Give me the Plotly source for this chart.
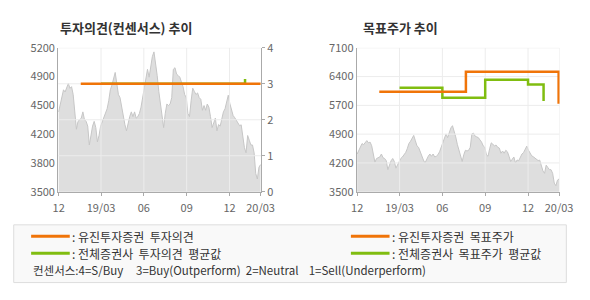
import plotly.graph_objects as go
import pandas as pd

# ---------------- data ----------------
price_start = "2018-12-04"
price_end = "2020-02-06"
price = [4443, 4536, 4648, 4704, 4678, 4741, 4779, 4722, 4741, 4648,
         4425, 4238, 4331, 4350, 4369, 4443, 4350, 4331, 4275, 4052,
         4164, 4275, 4331, 4257, 4089, 4164, 4275, 4331, 4369, 4425,
         4480, 4574, 4704, 4760, 4835, 4909, 4779, 4648, 4611, 4499,
         4369, 4294, 4220, 4313, 4387, 4443, 4387, 4443, 4369, 4387,
         4425, 4499, 4611, 4760, 4872, 4946, 4853, 4984, 5096, 5152,
         5021, 4872, 4685, 4536, 4350, 4257, 4425, 4536, 4518, 4536,
         4611, 4946, 4965, 4890, 4872, 4853, 4797, 4741, 4648, 4611,
         4425, 4387, 4574, 4723, 4685, 4648, 4667, 4611, 4592, 4462,
         4518, 4462, 4536, 4499, 4387, 4257, 4313, 4369, 4220, 4294,
         4275, 4369, 4443, 4480, 4555, 4640, 4540, 4480, 4400, 4375,
         4340, 4320, 4280, 4290, 4150, 4020, 3960, 4164, 4108, 4052,
         4052, 3959, 3716, 3650, 3790, 3820]

# opinion (consensus) lines, right axis 0-4
own_op_dates = ["2019-01-20", "2020-02-06"]
own_op_vals = [3, 3]
avg_op_dates = ["2019-03-04", "2020-01-04"]
avg_op_vals = [3, 3.13]

# target price lines
own_tp_dates = ["2019-01-20", "2019-07-23", "2020-02-05"]
own_tp_vals = [6000, 6500, 5700]
avg_tp_dates = ["2019-03-04", "2019-06-03", "2019-09-02", "2019-12-02", "2020-01-04"]
avg_tp_vals = [6100, 5850, 6300, 6180, 5770]

x_tick_dates = ["2018-12-04", "2019-03-04", "2019-06-03", "2019-09-02", "2019-12-02", "2020-02-06"]
x_tick_text = ["12", "19/03", "06", "09", "12", "20/03"]

left_tick_vals = [3500, 3840, 4180, 4520, 4860, 5200]
left_tick_text = ["3500", "3800", "4200", "4500", "4900", "5200"]
op_tick_vals = [0, 1, 2, 3, 4]
tp_tick_vals = [3500, 4220, 4940, 5660, 6380, 7100]
tp_tick_text = ["3500", "4200", "4900", "5700", "6400", "7100"]

x_range = ["2018-12-03", "2020-02-07"]

# ---------------- styling ----------------
W, H = 590, 300
ORANGE = "#f07408"
GREEN = "#80bd10"
FILL = "#dedede"
PLINE = "#c6c6c6"
GRID = "#ececec"
AXIS = "#aaaaaa"
TXT = "#333333"
TICK = "#666666"
FONT = "Noto Sans CJK KR"


def px(x):
    return x / W


def py(y):
    return 1 - y / H


dates = pd.date_range(price_start, price_end, periods=len(price))

fig = go.Figure()

# ---- left chart ----
fig.add_trace(go.Scatter(x=dates, y=price, mode="lines", fill="tozeroy",
                         line=dict(color=PLINE, width=1), fillcolor=FILL,
                         xaxis="x", yaxis="y", hoverinfo="skip"))
gx, gy = [], []
for v in op_tick_vals[1:]:
    gx += [x_range[0], x_range[1], None]
    gy += [v, v, None]
for d in x_tick_dates[1:-1]:
    gx += [d, d, None]
    gy += [0, 4, None]
fig.add_trace(go.Scatter(x=gx, y=gy, mode="lines", line=dict(color=GRID, width=1),
                         xaxis="x", yaxis="y2", hoverinfo="skip"))
fig.add_trace(go.Scatter(x=avg_op_dates, y=avg_op_vals, mode="lines", line_shape="hv",
                         line=dict(color=GREEN, width=2.5), xaxis="x", yaxis="y2"))
fig.add_trace(go.Scatter(x=own_op_dates, y=own_op_vals, mode="lines", line_shape="hv",
                         line=dict(color=ORANGE, width=2.5), xaxis="x", yaxis="y2"))

# ---- right chart ----
fig.add_trace(go.Scatter(x=dates, y=price, mode="lines", fill="tozeroy",
                         line=dict(color=PLINE, width=1), fillcolor=FILL,
                         xaxis="x2", yaxis="y3", hoverinfo="skip"))
gx, gy = [], []
for v in tp_tick_vals[1:]:
    gx += [x_range[0], x_range[1], None]
    gy += [v, v, None]
for d in x_tick_dates[1:-1] + [x_range[1]]:
    gx += [d, d, None]
    gy += [3500, 7100, None]
fig.add_trace(go.Scatter(x=gx, y=gy, mode="lines", line=dict(color=GRID, width=1),
                         xaxis="x2", yaxis="y3", hoverinfo="skip"))
fig.add_trace(go.Scatter(x=avg_tp_dates, y=avg_tp_vals, mode="lines", line_shape="hv",
                         line=dict(color=GREEN, width=2.5), xaxis="x2", yaxis="y3"))
fig.add_trace(go.Scatter(x=own_tp_dates, y=own_tp_vals, mode="lines", line_shape="hv",
                         line=dict(color=ORANGE, width=2.5), xaxis="x2", yaxis="y3"))

ydom = [py(193), py(41)]
xdom1 = [px(54), px(264)]
xdom2 = [px(363), px(573)]

xcommon = dict(type="date", range=x_range, tickvals=x_tick_dates, ticktext=x_tick_text,
               showgrid=False, showline=True, linecolor=AXIS, linewidth=1,
               ticks="outside", ticklen=3, tickcolor=AXIS, ticklabelstandoff=3,
               tickfont=dict(size=11, color=TICK, family=FONT), zeroline=False, fixedrange=True)
ycommon = dict(showgrid=False, showline=True, linecolor=AXIS, linewidth=1,
               tickfont=dict(size=11, color=TICK, family=FONT), zeroline=False, fixedrange=True)

fig.update_layout(
    width=W, height=H, margin=dict(l=0, r=0, t=0, b=0),
    paper_bgcolor="white", plot_bgcolor="white", showlegend=False,
    font=dict(family=FONT, color=TXT),
    xaxis=dict(domain=xdom1, anchor="y", **xcommon),
    yaxis=dict(domain=ydom, anchor="x", range=[3500, 5200], tickvals=left_tick_vals,
               ticktext=left_tick_text, ticks="", **ycommon),
    yaxis2=dict(overlaying="y", side="right", anchor="x", range=[0, 4], tickvals=op_tick_vals,
                ticks="outside", ticklen=3, tickcolor=AXIS, **ycommon),
    xaxis2=dict(domain=xdom2, anchor="y3", **xcommon),
    yaxis3=dict(domain=ydom, anchor="x2", range=[3500, 7100], tickvals=tp_tick_vals,
                ticktext=tp_tick_text, ticks="", **ycommon),
)

# titles
fig.add_annotation(x=px(54), y=py(20), xref="paper", yref="paper", xanchor="left", yanchor="middle",
                   text="<b>투자의견(컨센서스) 추이</b>", showarrow=False,
                   font=dict(size=13, color=TXT, family=FONT))
fig.add_annotation(x=px(367), y=py(20), xref="paper", yref="paper", xanchor="left", yanchor="middle",
                   text="<b>목표주가 추이</b>", showarrow=False,
                   font=dict(size=13, color=TXT, family=FONT))

# legend box
fig.add_shape(type="rect", xref="paper", yref="paper", x0=px(8), x1=px(580), y0=py(289), y1=py(228),
              fillcolor="#f9f9f9", line=dict(color="#dddddd", width=1), layer="below")
legend_items = [
    (26, 66, 240, ORANGE, ": 유진투자증권&nbsp;&nbsp;투자의견"),
    (26, 66, 258, GREEN, ": 전체증권사&nbsp;&nbsp;투자의견&nbsp;&nbsp;평균값"),
    (357, 397, 240, ORANGE, ": 유진투자증권&nbsp;&nbsp;목표주가"),
    (357, 397, 258, GREEN, ": 전체증권사&nbsp;&nbsp;목표주가&nbsp;&nbsp;평균값"),
]
for x0, x1, yy, col, txt in legend_items:
    fig.add_shape(type="line", xref="paper", yref="paper", x0=px(x0), x1=px(x1), y0=py(yy), y1=py(yy),
                  line=dict(color=col, width=3))
    fig.add_annotation(x=px(x1), y=py(yy), xref="paper", yref="paper", xanchor="left", yanchor="middle",
                       text=txt, showarrow=False, font=dict(size=12, color=TXT, family=FONT))
fig.add_annotation(x=px(26), y=py(276), xref="paper", yref="paper", xanchor="left", yanchor="middle",
                   text="컨센서스:4=S/Buy&nbsp;&nbsp;&nbsp;&nbsp;&nbsp;3=Buy(Outperform)&nbsp;&nbsp;2=Neutral&nbsp;&nbsp;&nbsp;&nbsp;1=Sell(Underperform)",
                   showarrow=False, font=dict(size=11.5, color=TXT, family=FONT))

fig.write_html("out.html")
